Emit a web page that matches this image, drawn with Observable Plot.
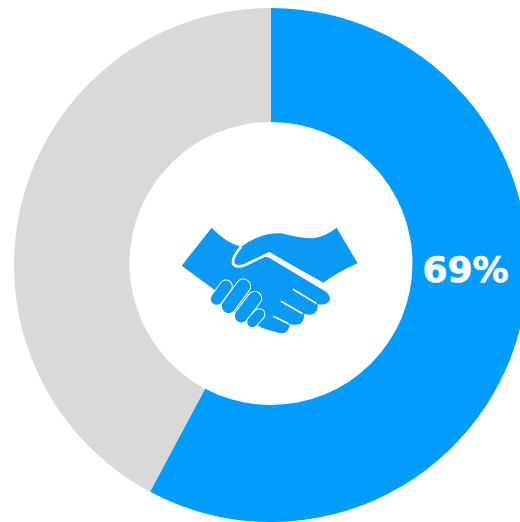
<!DOCTYPE html>
<html>
<head>
<meta charset="utf-8">
<script src="https://cdn.jsdelivr.net/npm/d3@7"></script>
<script src="https://cdn.jsdelivr.net/npm/@observablehq/plot@0.6"></script>
<style>html,body{margin:0;padding:0;background:#fff}svg{display:block}</style>
</head>
<body>
<div id="chart"></div>
<script>
const segments = ["Yes", "Other"];
const shares = [57.8, 42.2];
const colors = ["#009dff", "#d9d9d9"];
const labelText = ["69%"];

const starts = shares.map((_, i) => d3.sum(shares.slice(0, i)));
const rows = segments.map((s, i) => ({segment: s, start: starts[i], end: starts[i] + shares[i]}));

const cx = 271, cy = 265, outerR = 257, innerR = 120;

function arcRender(index, scales, values) {
  const g = d3.create("svg:g");
  const arc = d3.arc().innerRadius(innerR).outerRadius(outerR);
  for (const i of index) {
    g.append("path")
      .attr("transform", `translate(${cx},${cy})`)
      .attr("fill", values.fill ? values.fill[i] : "#000")
      .attr("d", arc({startAngle: values.x1[i] * Math.PI / 180, endAngle: values.x2[i] * Math.PI / 180}));
  }
  // centre hole of the ring
  g.append("circle").attr("cx", 271).attr("cy", 263.5).attr("r", 141.5).attr("fill", "#fff");
  return g.node();
}

function handshake() {
  const blue = "#0a99f5";
  const g = d3.create("svg:g").attr("transform", "translate(170,215) scale(0.3333)");
  // lower hand and palm
  g.append("path").attr("fill", blue).attr("d",
    "M125,38 Q165,82 215,96 L300,130 L470,232 Q484,248 478,258 Q468,272 442,268 Q447,287 430,297 Q418,302 402,296 Q405,317 388,328 Q375,332 358,326 Q360,347 342,354 Q330,357 275,338 L190,290 L130,222 L35,152 Z");
  // upper hand
  g.append("path").attr("fill", blue).attr("d",
    "M212,97 Q235,78 260,68 Q300,53 335,55 Q385,70 430,70 Q465,65 500,38 L563,145 Q505,170 458,205 L300,112 Q280,116 225,150 Q200,160 190,148 Q185,135 212,97 Z");
  // white gap between the hands
  g.append("path").attr("fill", "none").attr("stroke", "#fff").attr("stroke-width", 8).attr("stroke-linejoin", "round").attr("d",
    "M214,95 Q184,128 190,147 Q198,160 225,150 L296,116 L464,210");
  // fingers
  for (const [x1, y1, x2, y2, w] of [[168, 214, 140, 252, 35], [220, 214, 176, 274, 41], [254, 250, 214, 303, 39], [268, 298, 247, 321, 31]]) {
    g.append("line").attr("x1", x1).attr("y1", y1).attr("x2", x2).attr("y2", y2)
      .attr("stroke", "#fff").attr("stroke-width", w + 6).attr("stroke-linecap", "round");
    g.append("line").attr("x1", x1).attr("y1", y1).attr("x2", x2).attr("y2", y2)
      .attr("stroke", blue).attr("stroke-width", w).attr("stroke-linecap", "round");
  }
  // finger separations on the palm
  for (const [x1, y1, x2, y2] of [[368, 222, 440, 266], [333, 259, 398, 296], [310, 304, 356, 326]]) {
    g.append("line").attr("x1", x1).attr("y1", y1).attr("x2", x2).attr("y2", y2)
      .attr("stroke", "#fff").attr("stroke-width", 5).attr("stroke-linecap", "butt");
  }
  return g.node();
}

const chart = Plot.plot({
  width: 520,
  height: 522,
  margin: 0,
  x: {domain: [0, 100], range: [0, 360], axis: null},
  color: {domain: segments, range: colors},
  marks: [
    Plot.barX(rows, {x1: "start", x2: "end", fill: "segment", render: arcRender}),
    handshake,
    Plot.text(labelText, {
      text: d => d,
      frameAnchor: "top-left",
      dx: 465,
      dy: 270,
      textAnchor: "middle",
      lineAnchor: "middle",
      fill: "#fff",
      stroke: "#fff",
      strokeWidth: 0.7,
      fontFamily: "DejaVu Sans",
      fontWeight: "bold",
      fontSize: 36
    })
  ]
});
document.getElementById("chart").append(chart);
</script>
</body>
</html>
